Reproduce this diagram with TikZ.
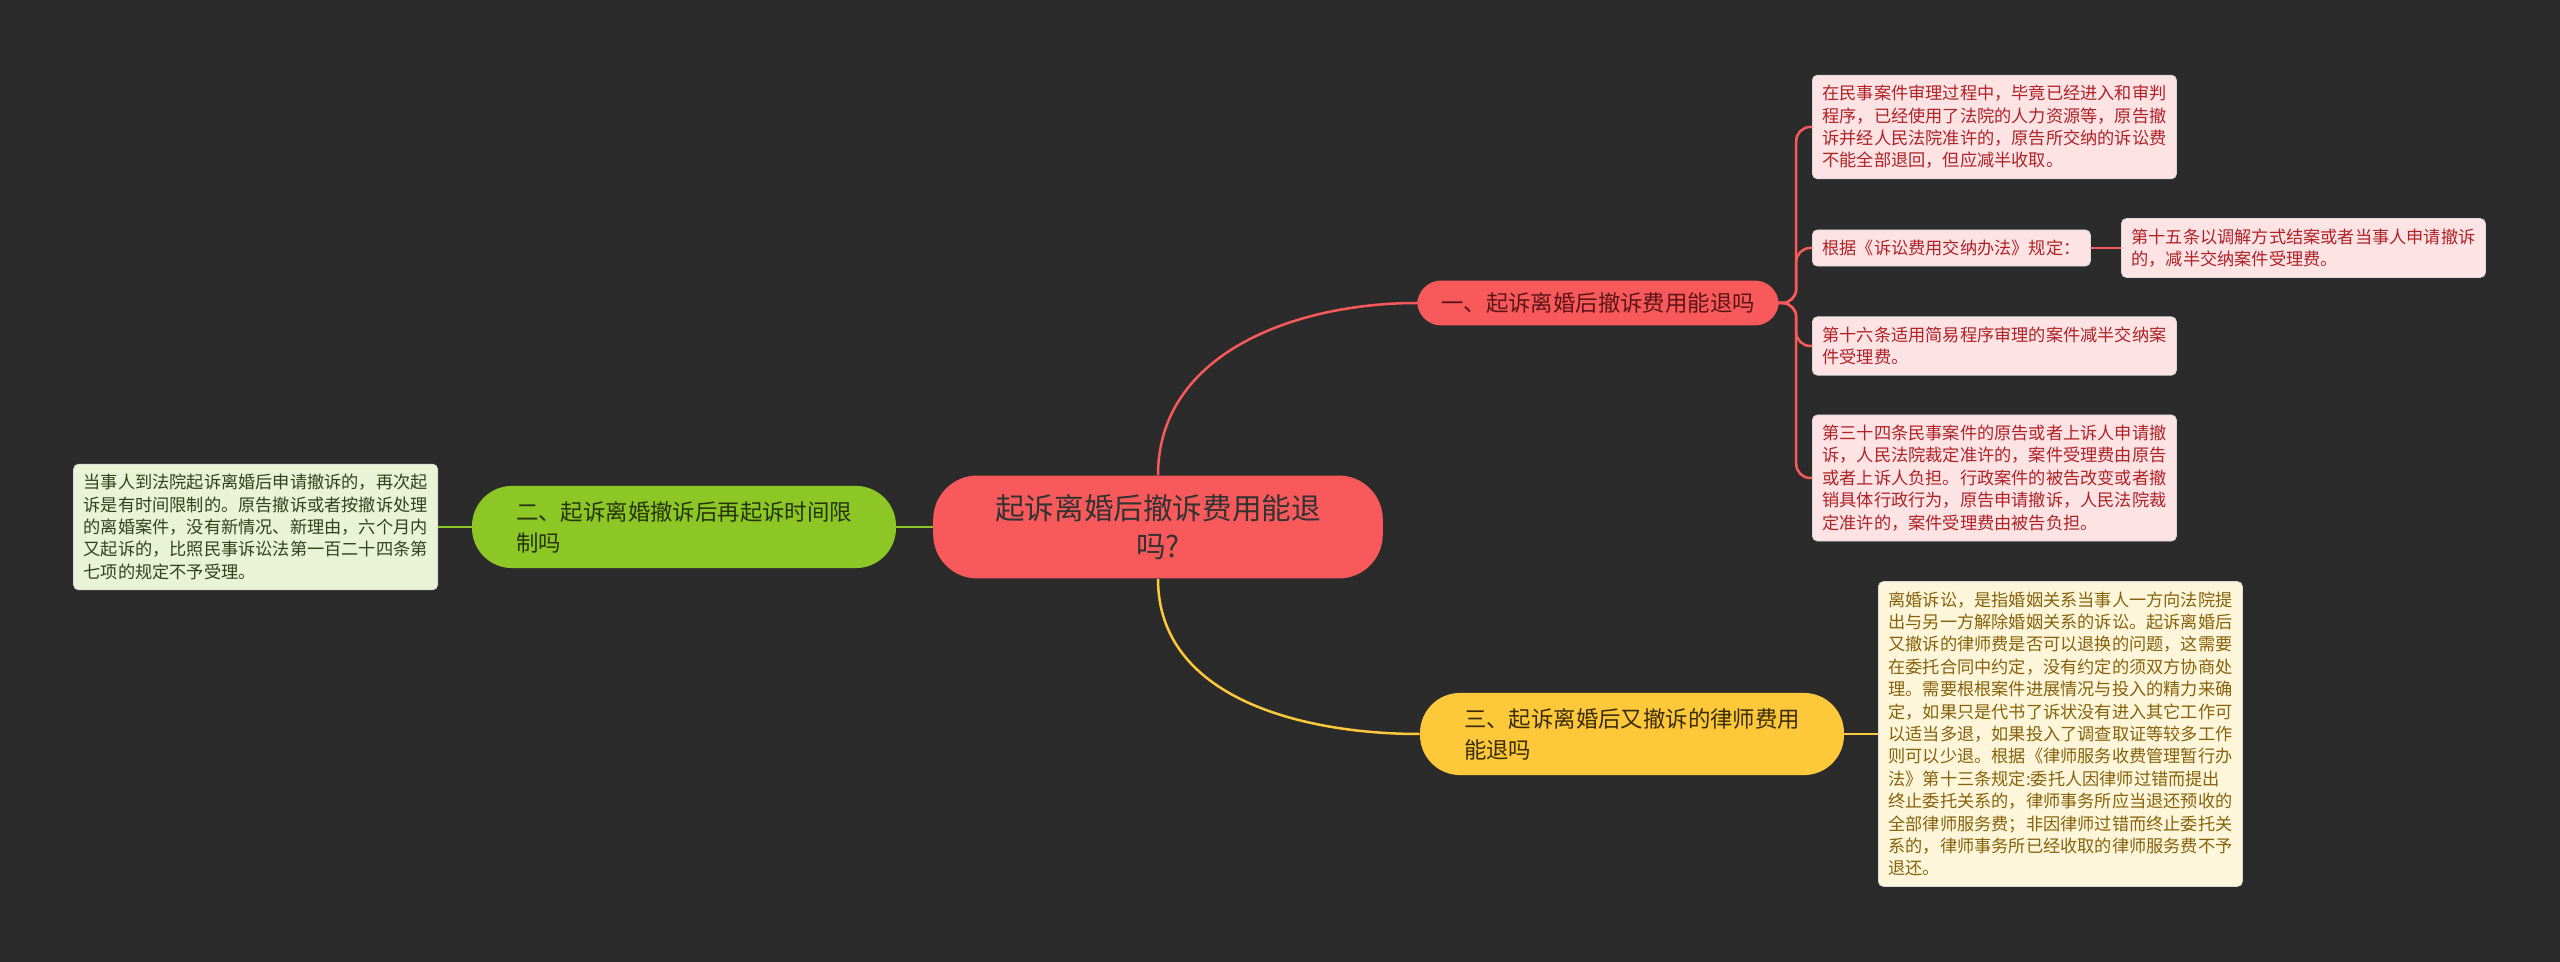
\documentclass[tikz,border=0pt]{standalone}
\usepackage{fontspec}
\setmainfont{Noto Sans CJK SC}
\usetikzlibrary{positioning}
\definecolor{board}{HTML}{2B2B2B}
\definecolor{coral}{HTML}{F85A5C}
\definecolor{coralink}{HTML}{5C1416}
\definecolor{lime}{HTML}{8CC725}
\definecolor{limeink}{HTML}{26340C}
\definecolor{amber}{HTML}{FDC83A}
\definecolor{amberink}{HTML}{3A2C06}
\definecolor{pinknote}{HTML}{FDE3E3}
\definecolor{pinkink}{HTML}{AE2228}
\definecolor{limenote}{HTML}{EAF3D6}
\definecolor{limenoteink}{HTML}{34421C}
\definecolor{ambernote}{HTML}{FEF6DB}
\definecolor{ambernoteink}{HTML}{86620A}
\newcommand{\NoteFont}{\fontsize{8.6pt}{11.2pt}\selectfont}
\newcommand{\BranchFont}{\fontsize{11.2pt}{15.5pt}\selectfont}

\begin{document}
\begin{tikzpicture}[
    x=0.5pt, y=-0.5pt,
    link/.style={line width=1.25pt},
    topic/.style={fill=coral, text=black!80, rounded corners=22pt, align=center,
      inner xsep=31pt, inner ysep=9.5pt, font=\fontsize{14.8pt}{18.8pt}\selectfont},
    branch/.style={rounded corners=20pt, align=left, inner xsep=22pt, inner ysep=7.6pt, font=\BranchFont},
    note/.style={rounded corners=2.5pt, align=left, inner xsep=5pt, inner ysep=5pt, font=\NoteFont,
      draw=white!85!black, line width=0.4pt},
    rednote/.style={note, fill=pinknote, text=pinkink},
  ]
\fill[board] (0,0) rectangle (2560,962);
\useasboundingbox (0,0) rectangle (2560,962);

% --- centre topic and its three branches ---------------------------------------------
\node[topic] (root) at (1158,527) {起诉离婚后撤诉费用能退\\吗?};
\node[branch, fill=coral, text=coralink, rounded corners=12pt, inner xsep=12pt, inner ysep=6pt] (one) at (1598,303) {一、起诉离婚后撤诉费用能退吗};
\node[branch, fill=lime, text=limeink] (two) at (684,527) {二、起诉离婚撤诉后再起诉时间限\\制吗};
\node[branch, fill=amber, text=amberink] (three) at (1632,734) {三、起诉离婚后又撤诉的律师费用\\能退吗};

\draw[link, coral] (root.north) to[out=90, in=180] (one.west);
\draw[link, amber] (root.south) to[out=-90, in=180] (three.west);
\draw[link, lime] (root.west) -- (two.east);

% --- notes under the first branch --------------------------------------------------------
\foreach \i/\y/\txt in {
    1/127/{在民事案件审理过程中，毕竟已经进入和审判\\程序，已经使用了法院的人力资源等，原告撤\\诉并经人民法院准许的，原告所交纳的诉讼费\\不能全部退回，但应减半收取。},
    2/248/{根据《诉讼费用交纳办法》规定：},
    3/346/{第十六条适用简易程序审理的案件减半交纳案\\件受理费。},
    4/478/{第三十四条民事案件的原告或者上诉人申请撤\\诉，人民法院裁定准许的，案件受理费由原告\\或者上诉人负担。行政案件的被告改变或者撤\\销具体行政行为，原告申请撤诉，人民法院裁\\定准许的，案件受理费由被告负担。}} {
  \node[rednote, anchor=west] (n\i) at (1812,\y) {\txt};
  \draw[link, coral, rounded corners=7pt] (one.east) -- ++(17,0) |- (n\i.west);
}
\node[rednote, anchor=west] (n2b) at (2121,248) {第十五条以调解方式结案或者当事人申请撤诉\\的，减半交纳案件受理费。};
\draw[link, coral] (n2.east) -- (n2b.west);

% --- notes of the second and third branches ------------------------------------------------
\node[note, fill=limenote, text=limenoteink, anchor=east] (lnote) at (438,527)
  {当事人到法院起诉离婚后申请撤诉的，再次起\\诉是有时间限制的。原告撤诉或者按撤诉处理\\的离婚案件，没有新情况、新理由，六个月内\\又起诉的，比照民事诉讼法第一百二十四条第\\七项的规定不予受理。};
\draw[link, lime] (two.west) -- (lnote.east);

\node[note, fill=ambernote, text=ambernoteink, anchor=west] (ynote) at (1878,734)
  {离婚诉讼，是指婚姻关系当事人一方向法院提\\出与另一方解除婚姻关系的诉讼。起诉离婚后\\又撤诉的律师费是否可以退换的问题，这需要\\在委托合同中约定，没有约定的须双方协商处\\理。需要根根案件进展情况与投入的精力来确\\定，如果只是代书了诉状没有进入其它工作可\\以适当多退，如果投入了调查取证等较多工作\\则可以少退。根据《律师服务收费管理暂行办\\法》第十三条规定:委托人因律师过错而提出\\终止委托关系的，律师事务所应当退还预收的\\全部律师服务费；非因律师过错而终止委托关\\系的，律师事务所已经收取的律师服务费不予\\退还。};
\draw[link, amber] (three.east) -- (ynote.west);

\end{tikzpicture}
\end{document}
